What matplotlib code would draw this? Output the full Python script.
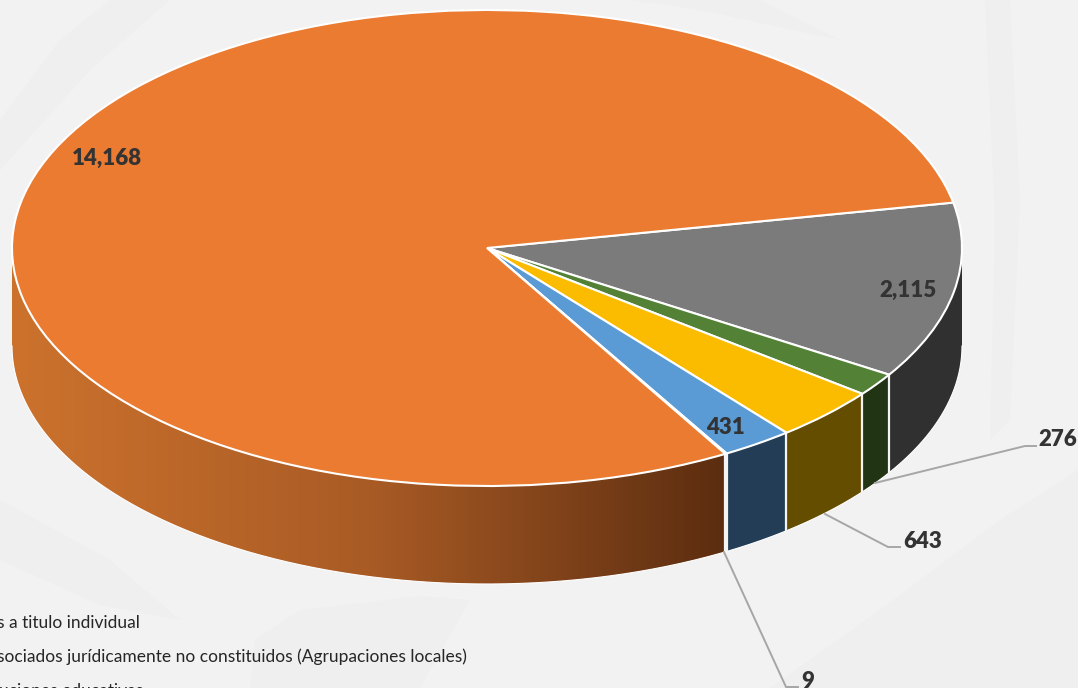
import numpy as np
import matplotlib
matplotlib.use('Agg')
import matplotlib.pyplot as plt
from matplotlib.colors import LinearSegmentedColormap
from matplotlib.patches import Polygon
from matplotlib.transforms import Affine2D

W, H = 1078, 688
CX, CY, RX, RY, DEPTH = 487, 248, 475, 238, 98

# clockwise, starting at the gray/orange boundary
values = [2115, 276, 643, 431, 9, 14168]
value_labels = ['2,115', '276', '643', '431', '9', '14,168']
top_colors = ['#7b7b7b', '#538135', '#fbbc00', '#5b9bd5', '#264478', '#ea7b31']
side_colors = ['#303030', '#213414', '#654d00', '#223d55', '#1a2c4d', None]
legend_lines = ['s a titulo individual',
                'sociados jurídicamente no constituidos (Agrupaciones locales)',
                'uciones educativas']
start_angle = 11.0

plt.rcParams['font.family'] = ['Lato', 'DejaVu Sans']

fig = plt.figure(figsize=(W / 100, H / 100), dpi=100, facecolor='#f2f2f2')
ax = fig.add_axes([0, 0, 1, 1])
px = Affine2D().scale(1, -1).translate(0, H)


def shade(points, color='#efefef'):
    ax.add_patch(Polygon(points, closed=True, transform=px, fc=color, ec='none', zorder=0))


# faint watermark in the background
shade([(770, 688), (880, 610), (1000, 520), (1078, 470), (1078, 688)])
shade([(250, 688), (255, 640), (300, 610), (420, 596), (470, 600), (420, 688)])
shade([(985, 0), (1010, 0), (1020, 200), (1010, 420), (990, 440), (995, 220)])
shade([(0, 120), (60, 40), (110, 0), (170, 0), (90, 70), (0, 170)])
shade([(630, 0), (760, 0), (840, 40), (700, 10)])
shade([(0, 500), (110, 560), (180, 620), (100, 605), (0, 560)])


def arc(a0, a1, n=200):
    t = np.radians(np.linspace(a0, a1, n))
    return np.cos(t), np.sin(t)


def wall(a0, a1):
    x, y = arc(a0, a1)
    d = DEPTH / RY
    return np.r_[x, x[::-1]], np.r_[y, y[::-1] - d]


# slice boundaries in degrees, clockwise from the start
edges = start_angle - np.r_[0, np.cumsum(values)] / sum(values) * 360

for i, color in enumerate(side_colors):
    a0, a1 = edges[i], edges[i + 1]
    # only the front half of the rim is visible
    a0 = min(a0, 0)
    a1 = max(a1, -180)
    xs, ys = wall(a0, a1)
    if color is None:
        grad = LinearSegmentedColormap.from_list('rim', ['#cc722d', '#a95b25', '#5c2d10'])
        img = ax.imshow(np.linspace(0, 1, 256)[None, :], cmap=grad, aspect='auto',
                        extent=(-1, np.cos(np.radians(a0)), -2, 1), zorder=1)
        clip = Polygon(np.c_[xs, ys], closed=True, transform=ax.transData, fc='none', ec='none')
        ax.add_patch(clip)
        img.set_clip_path(clip)
    else:
        ax.fill(xs, ys, color=color, lw=0, zorder=1)
    n = len(xs) // 2
    ax.plot(xs[n:], ys[n:], color='white', lw=0.8, zorder=2)
    if a0 < 0:
        ax.plot([xs[0], xs[-1]], [ys[0], ys[-1]], color='#f4f4f4', lw=1.6, zorder=2)

ax.pie(values, colors=top_colors, startangle=start_angle, counterclock=False,
       radius=1, center=(0, 0), wedgeprops={'edgecolor': 'white', 'linewidth': 1.5, 'zorder': 3})

ax.set_aspect('auto')
ax.set_xlim(-CX / RX, (W - CX) / RX)
ax.set_ylim((CY - H) / RY, CY / RY)
ax.axis('off')

# value labels
label_pos = {'2,115': (908, 290), '276': (1058, 440), '643': (923, 541),
             '431': (725, 428), '9': (808, 681), '14,168': (107, 158)}
for text in value_labels:
    x, y = label_pos[text]
    ax.text(x, y, text, transform=px, ha='center', va='center', fontsize=16,
            fontweight='heavy', color='#333333', zorder=6)

# leader lines
leaders = [[(875, 483), (1025, 446), (1036, 446)],
           [(825, 514), (888, 547), (900, 547)],
           [(724, 552), (786, 687), (798, 687)]]
for line in leaders:
    lx, ly = zip(*line)
    ax.plot(lx, ly, transform=px, color='#a6a6a6', lw=1.4, zorder=5)

# cut-off legend text
legend_right = [140, 467, 143]
legend_y = [623, 657, 691]
for text, x, y in zip(legend_lines, legend_right, legend_y):
    ax.text(x, y, text, transform=px, ha='right', va='center', fontsize=12.5,
            color='#262626', zorder=6)

fig.savefig('out.png', dpi=100, facecolor=fig.get_facecolor())
